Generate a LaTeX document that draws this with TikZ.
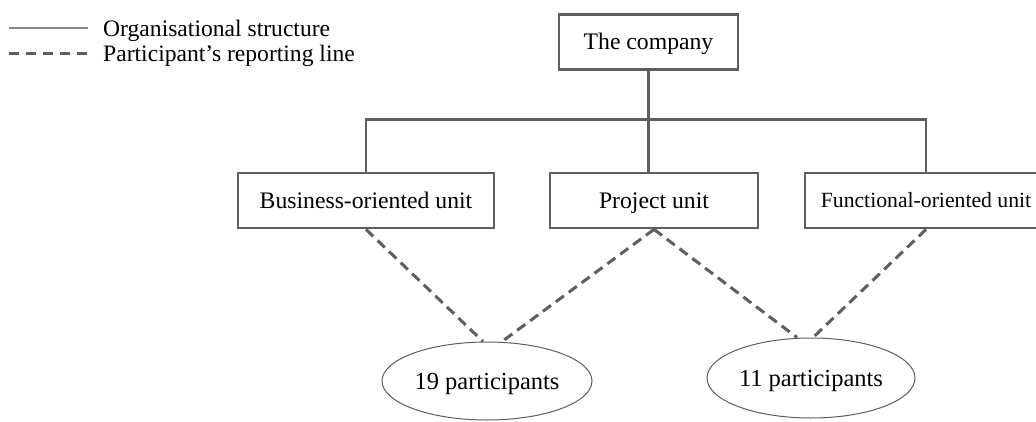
\documentclass[tikz,border=0pt]{standalone}
\usepackage{fontspec}
\setmainfont{Liberation Serif}
\usetikzlibrary{shapes.geometric}
\definecolor{linegray}{HTML}{5E5E5E}
\definecolor{keygray}{HTML}{8A8A8A}
\tikzset{
  unitbox/.style={draw=linegray, line width=2.8pt, fill=white, inner sep=0pt,
    minimum height=55pt, text height=15.6pt, text depth=0pt,
    font=\fontsize{23.7}{28}\selectfont},
  groupell/.style={ellipse, draw=linegray, line width=1pt, inner sep=0pt,
    minimum width=210pt, minimum height=78pt, text height=16.2pt, text depth=0pt,
    font=\fontsize{24.5}{29}\selectfont},
  orgline/.style={draw=linegray, line width=2.8pt},
  reportline/.style={draw=linegray, line width=3pt, dash pattern=on 10pt off 6pt},
  keytext/.style={anchor=west, inner sep=0pt, text height=15.6pt, text depth=0pt,
    font=\fontsize{23.6}{28}\selectfont},
}
\begin{document}
\begin{tikzpicture}[x=1pt, y=-1pt]
\useasboundingbox (0,0) rectangle (1036,421);

% legend
\coordinate (k1a) at (9,28);  \coordinate (k1b) at (88,28);
\coordinate (k2a) at (9,53);  \coordinate (k2b) at (88,53);
\draw[draw=keygray, line width=1.3pt] (k1a) -- (k1b);
\draw[draw=linegray, line width=3pt, dash pattern=on 10pt off 7pt] (k2a) -- (k2b);
\node[keytext] (key1) at (103,29) {Organisational structure};
\node[keytext] (key2) at (103,54) {Participant’s reporting line};

% organisational units
\node[unitbox, minimum width=179pt] (company) at (648.5,42) {The company};
\node[unitbox, minimum width=256pt] (business) at (366,200.5) {Business-oriented unit};
\node[unitbox, minimum width=208pt] (project) at (654,200.5) {Project unit};
\node[unitbox, minimum width=242pt, text height=14.4pt, font=\fontsize{21.7}{26}\selectfont]
  (functional) at (926,200.5) {Functional-oriented unit};

% participant groups
\node[groupell] (g19) at (487,381) {19 participants};
\node[groupell, minimum width=208pt, minimum height=80pt] (g11) at (811,378) {11 participants};

% organisational structure
\draw[orgline] (company.south) -- (company.south |- project.north);
\draw[orgline] (business.north) -- ++(0,-52) -| (functional.north);

% reporting lines
\draw[reportline] (business.south) -- ([xshift=-4pt]g19.north);
\draw[reportline] (project.south) -- ([xshift=15pt]g19.north);
\draw[reportline] (project.south) -- ([xshift=-14pt]g11.north);
\draw[reportline] (functional.south) -- ([xshift=2pt]g11.north);
\end{tikzpicture}
\end{document}
